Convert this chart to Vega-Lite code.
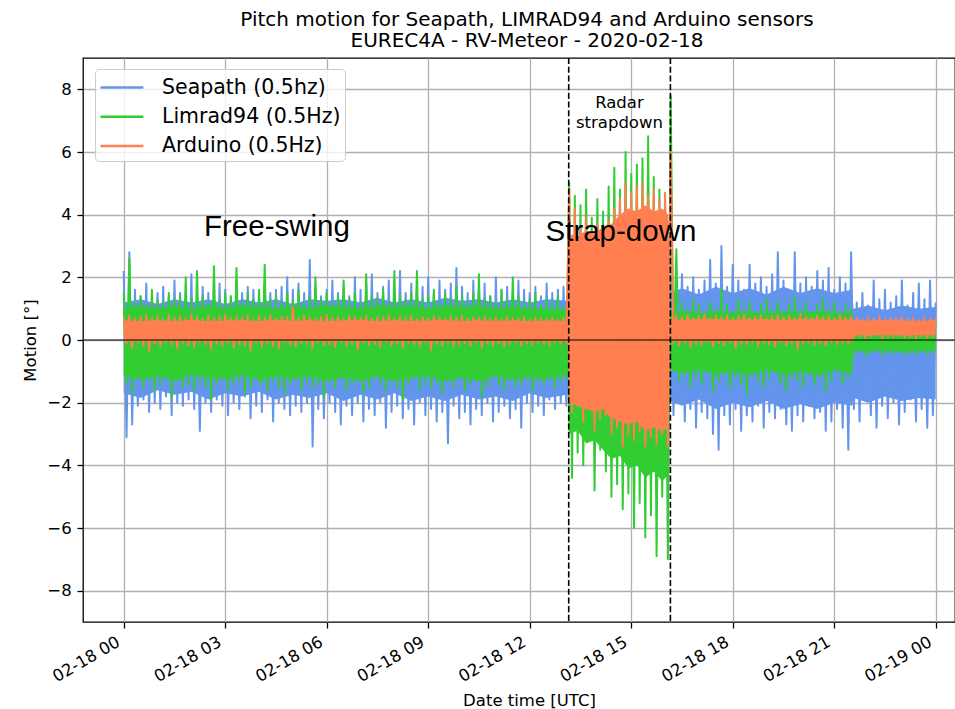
{
"$schema":"https://vega.github.io/schema/vega-lite/v6.json",
"width":872,"height":564,
"autosize":{"type":"none"},
"padding":{"left":83,"top":58,"right":0,"bottom":87},
"background":"white",
"title":{"text":["Pitch motion for Seapath, LIMRAD94 and Arduino sensors","EUREC4A - RV-Meteor - 2020-02-18"],"font":"DejaVu Sans","fontSize":20,"fontWeight":"normal","color":"black","anchor":"middle","dx":8,"dy":21,"lineHeight":21.7,"baseline":"bottom","offset":7},
"config":{
"font":"DejaVu Sans",
"view":{"stroke":"black","strokeWidth":1.3},
"axis":{"domain":false,"gridColor":"#b0b0b0","gridWidth":1.3,"tickColor":"black","tickWidth":1.3,"tickSize":6,"labelFont":"DejaVu Sans","labelFontSize":16.5,"labelColor":"black","titleFont":"DejaVu Sans","titleFontSize":16.5,"titleFontWeight":"normal","titleColor":"black","labelOverlap":false,"labelFlush":false,"labelBound":false}
},
"datasets":{
"phases":[{"t":"2020-02-18T13:09:10Z"},{"t":"2020-02-18T16:09:30Z"}],
"labels":[{"t":"2020-02-18T02:22:24Z","v":3.32,"label":"Free-swing"},{"t":"2020-02-18T12:28:00Z","v":3.16,"label":"Strap-down"}],
"note":[{"t":"2020-02-18T14:39:07Z","v":7.81,"label":"Radar\nstrapdown"}],
"core":[
{"t":"2020-02-18T00:00Z","s0":-1.7,"s1":1.2,"l0":-1.15,"l1":1.0,"a0":-0.04,"a1":0.62},
{"t":"2020-02-18T00:30Z","s0":-1.85,"s1":1.3,"l0":-1.25,"l1":1.1,"a0":-0.03,"a1":0.6},
{"t":"2020-02-18T01:00Z","s0":-1.6,"s1":1.15,"l0":-1.15,"l1":1.0,"a0":-0.05,"a1":0.63},
{"t":"2020-02-18T01:30Z","s0":-1.75,"s1":1.3,"l0":-1.3,"l1":1.1,"a0":-0.02,"a1":0.61},
{"t":"2020-02-18T02:00Z","s0":-1.65,"s1":1.2,"l0":-1.1,"l1":0.95,"a0":-0.04,"a1":0.64},
{"t":"2020-02-18T02:30Z","s0":-1.9,"s1":1.3,"l0":-1.2,"l1":1.1,"a0":-0.03,"a1":0.6},
{"t":"2020-02-18T03:00Z","s0":-1.7,"s1":1.15,"l0":-1.25,"l1":1.0,"a0":-0.05,"a1":0.62},
{"t":"2020-02-18T03:30Z","s0":-1.8,"s1":1.3,"l0":-1.1,"l1":1.1,"a0":-0.02,"a1":0.63},
{"t":"2020-02-18T04:00Z","s0":-1.65,"s1":1.2,"l0":-1.3,"l1":1.05,"a0":-0.04,"a1":0.6},
{"t":"2020-02-18T04:30Z","s0":-1.9,"s1":1.3,"l0":-1.15,"l1":1.0,"a0":-0.03,"a1":0.64},
{"t":"2020-02-18T05:00Z","s0":-1.75,"s1":1.15,"l0":-1.25,"l1":1.1,"a0":-0.05,"a1":0.61},
{"t":"2020-02-18T05:30Z","s0":-1.85,"s1":1.3,"l0":-1.15,"l1":1.0,"a0":-0.02,"a1":0.63},
{"t":"2020-02-18T06:00Z","s0":-1.7,"s1":1.25,"l0":-1.3,"l1":1.1,"a0":-0.04,"a1":0.6},
{"t":"2020-02-18T06:30Z","s0":-1.95,"s1":1.3,"l0":-1.2,"l1":1.05,"a0":-0.03,"a1":0.62},
{"t":"2020-02-18T07:00Z","s0":-1.75,"s1":1.2,"l0":-1.3,"l1":1.0,"a0":-0.05,"a1":0.64},
{"t":"2020-02-18T07:30Z","s0":-1.9,"s1":1.35,"l0":-1.15,"l1":1.1,"a0":-0.02,"a1":0.6},
{"t":"2020-02-18T08:00Z","s0":-1.7,"s1":1.2,"l0":-1.3,"l1":1.05,"a0":-0.04,"a1":0.63},
{"t":"2020-02-18T08:30Z","s0":-1.95,"s1":1.3,"l0":-1.2,"l1":1.1,"a0":-0.03,"a1":0.61},
{"t":"2020-02-18T09:00Z","s0":-1.8,"s1":1.2,"l0":-1.15,"l1":1.0,"a0":-0.05,"a1":0.62},
{"t":"2020-02-18T09:30Z","s0":-1.95,"s1":1.35,"l0":-1.3,"l1":1.1,"a0":-0.02,"a1":0.64},
{"t":"2020-02-18T10:00Z","s0":-1.75,"s1":1.25,"l0":-1.2,"l1":1.05,"a0":-0.04,"a1":0.6},
{"t":"2020-02-18T10:30Z","s0":-1.9,"s1":1.3,"l0":-1.3,"l1":1.1,"a0":-0.03,"a1":0.63},
{"t":"2020-02-18T11:00Z","s0":-1.8,"s1":1.2,"l0":-1.15,"l1":1.0,"a0":-0.05,"a1":0.61},
{"t":"2020-02-18T11:30Z","s0":-1.95,"s1":1.3,"l0":-1.25,"l1":1.05,"a0":-0.02,"a1":0.62},
{"t":"2020-02-18T12:00Z","s0":-1.7,"s1":1.2,"l0":-1.2,"l1":1.0,"a0":-0.04,"a1":0.6},
{"t":"2020-02-18T12:30Z","s0":-1.85,"s1":1.3,"l0":-1.25,"l1":1.0,"a0":-0.03,"a1":0.62},
{"t":"2020-02-18T13:07Z","s0":-1.75,"s1":1.25,"l0":-1.1,"l1":0.95,"a0":-0.03,"a1":0.6},
{"t":"2020-02-18T13:09Z","s0":-1.2,"s1":1.1,"l0":-3.0,"l1":3.2,"a0":-2.0,"a1":3.4},
{"t":"2020-02-18T13:25Z","s0":-1.2,"s1":1.1,"l0":-2.9,"l1":3.2,"a0":-2.1,"a1":3.3},
{"t":"2020-02-18T13:40Z","s0":-1.2,"s1":1.1,"l0":-3.3,"l1":3.2,"a0":-2.2,"a1":3.5},
{"t":"2020-02-18T13:55Z","s0":-1.2,"s1":1.1,"l0":-3.2,"l1":3.2,"a0":-2.3,"a1":3.4},
{"t":"2020-02-18T14:10Z","s0":-1.2,"s1":1.1,"l0":-3.5,"l1":3.4,"a0":-2.2,"a1":3.6},
{"t":"2020-02-18T14:25Z","s0":-1.2,"s1":1.1,"l0":-3.8,"l1":3.6,"a0":-2.5,"a1":3.7},
{"t":"2020-02-18T14:40Z","s0":-1.2,"s1":1.1,"l0":-3.7,"l1":3.8,"a0":-2.6,"a1":4.0},
{"t":"2020-02-18T14:55Z","s0":-1.2,"s1":1.1,"l0":-4.1,"l1":3.9,"a0":-2.7,"a1":4.2},
{"t":"2020-02-18T15:10Z","s0":-1.2,"s1":1.1,"l0":-4.0,"l1":3.9,"a0":-2.6,"a1":4.1},
{"t":"2020-02-18T15:25Z","s0":-1.2,"s1":1.1,"l0":-4.4,"l1":4.0,"a0":-2.9,"a1":4.3},
{"t":"2020-02-18T15:40Z","s0":-1.2,"s1":1.1,"l0":-4.2,"l1":3.9,"a0":-2.8,"a1":4.1},
{"t":"2020-02-18T15:55Z","s0":-1.2,"s1":1.1,"l0":-4.5,"l1":3.9,"a0":-2.9,"a1":4.2},
{"t":"2020-02-18T16:06Z","s0":-1.2,"s1":1.1,"l0":-4.3,"l1":3.8,"a0":-2.8,"a1":4.0},
{"t":"2020-02-18T16:09Z","s0":-1.95,"s1":1.5,"l0":-0.95,"l1":0.85,"a0":-0.03,"a1":0.66},
{"t":"2020-02-18T16:30Z","s0":-2.1,"s1":1.65,"l0":-1.05,"l1":0.9,"a0":-0.04,"a1":0.65},
{"t":"2020-02-18T17:00Z","s0":-1.9,"s1":1.45,"l0":-0.95,"l1":0.85,"a0":-0.03,"a1":0.67},
{"t":"2020-02-18T17:30Z","s0":-2.2,"s1":1.7,"l0":-1.1,"l1":0.9,"a0":-0.05,"a1":0.66},
{"t":"2020-02-18T18:00Z","s0":-2.0,"s1":1.5,"l0":-1.0,"l1":0.85,"a0":-0.03,"a1":0.65},
{"t":"2020-02-18T18:30Z","s0":-2.15,"s1":1.65,"l0":-1.1,"l1":0.9,"a0":-0.04,"a1":0.67},
{"t":"2020-02-18T19:00Z","s0":-1.95,"s1":1.45,"l0":-0.95,"l1":0.85,"a0":-0.03,"a1":0.66},
{"t":"2020-02-18T19:30Z","s0":-2.2,"s1":1.7,"l0":-1.1,"l1":0.9,"a0":-0.05,"a1":0.65},
{"t":"2020-02-18T20:00Z","s0":-2.05,"s1":1.5,"l0":-1.0,"l1":0.85,"a0":-0.03,"a1":0.67},
{"t":"2020-02-18T20:30Z","s0":-2.2,"s1":1.65,"l0":-1.1,"l1":0.9,"a0":-0.04,"a1":0.66},
{"t":"2020-02-18T21:00Z","s0":-2.0,"s1":1.5,"l0":-0.95,"l1":0.85,"a0":-0.03,"a1":0.65},
{"t":"2020-02-18T21:32Z","s0":-2.1,"s1":1.6,"l0":-1.05,"l1":0.85,"a0":-0.04,"a1":0.66},
{"t":"2020-02-18T21:34Z","s0":-1.85,"s1":1.0,"l0":-0.33,"l1":0.48,"a0":0.15,"a1":0.62},
{"t":"2020-02-18T22:00Z","s0":-2.0,"s1":1.1,"l0":-0.36,"l1":0.48,"a0":0.14,"a1":0.62},
{"t":"2020-02-18T22:30Z","s0":-1.8,"s1":0.95,"l0":-0.33,"l1":0.48,"a0":0.16,"a1":0.63},
{"t":"2020-02-18T23:00Z","s0":-1.95,"s1":1.1,"l0":-0.37,"l1":0.48,"a0":0.14,"a1":0.62},
{"t":"2020-02-18T23:30Z","s0":-1.85,"s1":1.0,"l0":-0.34,"l1":0.48,"a0":0.15,"a1":0.61},
{"t":"2020-02-19T00:00Z","s0":-1.9,"s1":1.05,"l0":-0.35,"l1":0.48,"a0":0.15,"a1":0.62}
],
"motion":[
{"t":"2020-02-18T00:00Z","s":2.2,"l":1.5,"a":0.72},
{"t":"2020-02-18T00:05Z","s":-3.1,"l":-1.4,"a":-0.12},
{"t":"2020-02-18T00:10Z","s":2.8,"l":2.6,"a":0.78},
{"t":"2020-02-18T00:15Z","s":-2.7,"l":-1.7,"a":-0.25},
{"t":"2020-02-18T00:20Z","s":1.6,"l":1.2,"a":0.68},
{"t":"2020-02-18T00:25Z","s":-2.1,"l":-1.2,"a":-0.08},
{"t":"2020-02-18T00:30Z","s":1.4,"l":1.4,"a":0.75},
{"t":"2020-02-18T00:35Z","s":-1.9,"l":-1.5,"a":-0.18},
{"t":"2020-02-18T00:40Z","s":1.8,"l":1.1,"a":0.8},
{"t":"2020-02-18T00:45Z","s":-2.3,"l":-1.3,"a":-0.35},
{"t":"2020-02-18T00:50Z","s":1.3,"l":1.6,"a":0.7},
{"t":"2020-02-18T00:55Z","s":-2.0,"l":-1.6,"a":-0.1},
{"t":"2020-02-18T01:00Z","s":1.5,"l":1.3,"a":0.74},
{"t":"2020-02-18T01:05Z","s":-2.2,"l":-1.4,"a":-0.2},
{"t":"2020-02-18T01:10Z","s":1.7,"l":1.2,"a":0.66},
{"t":"2020-02-18T01:15Z","s":-1.8,"l":-1.2,"a":-0.06},
{"t":"2020-02-18T01:20Z","s":1.4,"l":1.5,"a":0.79},
{"t":"2020-02-18T01:25Z","s":-2.4,"l":-1.8,"a":-0.15},
{"t":"2020-02-18T01:30Z","s":1.9,"l":1.3,"a":0.71},
{"t":"2020-02-18T01:35Z","s":-2.0,"l":-1.3,"a":-0.28},
{"t":"2020-02-18T01:40Z","s":1.5,"l":1.4,"a":0.76},
{"t":"2020-02-18T01:45Z","s":-2.1,"l":-1.5,"a":-0.09},
{"t":"2020-02-18T01:50Z","s":1.6,"l":2.0,"a":0.69},
{"t":"2020-02-18T01:55Z","s":-1.9,"l":-1.4,"a":-0.17},
{"t":"2020-02-18T02:00Z","s":2.1,"l":1.3,"a":0.82},
{"t":"2020-02-18T02:05Z","s":-2.2,"l":-1.6,"a":-0.22},
{"t":"2020-02-18T02:10Z","s":1.4,"l":2.2,"a":0.73},
{"t":"2020-02-18T02:15Z","s":-2.9,"l":-1.3,"a":-0.05},
{"t":"2020-02-18T02:20Z","s":1.7,"l":1.4,"a":0.67},
{"t":"2020-02-18T02:25Z","s":-2.0,"l":-1.5,"a":-0.14},
{"t":"2020-02-18T02:30Z","s":1.5,"l":1.2,"a":0.77},
{"t":"2020-02-18T02:35Z","s":-2.3,"l":-1.9,"a":-0.3},
{"t":"2020-02-18T02:40Z","s":1.3,"l":2.35,"a":0.7},
{"t":"2020-02-18T02:45Z","s":-1.9,"l":-1.4,"a":-0.11},
{"t":"2020-02-18T02:50Z","s":1.8,"l":1.3,"a":0.75},
{"t":"2020-02-18T02:55Z","s":-2.1,"l":-1.2,"a":-0.19},
{"t":"2020-02-18T03:00Z","s":1.6,"l":1.5,"a":0.8},
{"t":"2020-02-18T03:05Z","s":-2.4,"l":-1.6,"a":-0.07},
{"t":"2020-02-18T03:10Z","s":1.4,"l":1.4,"a":0.68},
{"t":"2020-02-18T03:15Z","s":-2.0,"l":-1.4,"a":-0.24},
{"t":"2020-02-18T03:20Z","s":1.9,"l":2.3,"a":0.74},
{"t":"2020-02-18T03:25Z","s":-2.2,"l":-1.3,"a":-0.13},
{"t":"2020-02-18T03:30Z","s":1.5,"l":1.2,"a":0.72},
{"t":"2020-02-18T03:35Z","s":-1.8,"l":-1.7,"a":-0.16},
{"t":"2020-02-18T03:40Z","s":1.7,"l":1.5,"a":0.78},
{"t":"2020-02-18T03:45Z","s":-2.5,"l":-1.5,"a":-0.33},
{"t":"2020-02-18T03:50Z","s":1.6,"l":1.3,"a":0.65},
{"t":"2020-02-18T03:55Z","s":-2.1,"l":-1.2,"a":-0.08},
{"t":"2020-02-18T04:00Z","s":1.4,"l":1.6,"a":0.76},
{"t":"2020-02-18T04:05Z","s":-2.3,"l":-1.4,"a":-0.2},
{"t":"2020-02-18T04:10Z","s":1.8,"l":2.4,"a":0.71},
{"t":"2020-02-18T04:15Z","s":-1.9,"l":-1.6,"a":-0.1},
{"t":"2020-02-18T04:20Z","s":1.5,"l":1.3,"a":0.79},
{"t":"2020-02-18T04:25Z","s":-2.6,"l":-1.3,"a":-0.18},
{"t":"2020-02-18T04:30Z","s":1.6,"l":1.4,"a":0.69},
{"t":"2020-02-18T04:35Z","s":-2.0,"l":-1.5,"a":-0.27},
{"t":"2020-02-18T04:40Z","s":1.7,"l":1.2,"a":0.74},
{"t":"2020-02-18T04:45Z","s":-2.2,"l":-1.7,"a":-0.06},
{"t":"2020-02-18T04:50Z","s":2.0,"l":1.5,"a":0.73},
{"t":"2020-02-18T04:55Z","s":-2.4,"l":-1.4,"a":-0.15},
{"t":"2020-02-18T05:00Z","s":1.6,"l":1.3,"a":1.05},
{"t":"2020-02-18T05:05Z","s":-2.1,"l":-1.2,"a":-0.21},
{"t":"2020-02-18T05:10Z","s":1.8,"l":1.6,"a":0.7},
{"t":"2020-02-18T05:15Z","s":-2.3,"l":-1.6,"a":-0.09},
{"t":"2020-02-18T05:20Z","s":1.5,"l":1.2,"a":0.77},
{"t":"2020-02-18T05:25Z","s":-2.0,"l":-1.3,"a":-0.12},
{"t":"2020-02-18T05:30Z","s":2.55,"l":1.4,"a":0.72},
{"t":"2020-02-18T05:35Z","s":-3.4,"l":-1.5,"a":-0.26},
{"t":"2020-02-18T05:40Z","s":1.7,"l":2.0,"a":0.68},
{"t":"2020-02-18T05:45Z","s":-2.2,"l":-1.4,"a":-0.07},
{"t":"2020-02-18T05:50Z","s":1.4,"l":1.3,"a":0.75},
{"t":"2020-02-18T05:55Z","s":-2.5,"l":-1.8,"a":-0.17},
{"t":"2020-02-18T06:00Z","s":1.6,"l":1.5,"a":0.8},
{"t":"2020-02-18T06:05Z","s":-2.0,"l":-1.3,"a":-0.14},
{"t":"2020-02-18T06:10Z","s":1.9,"l":1.2,"a":0.71},
{"t":"2020-02-18T06:15Z","s":-2.3,"l":-1.5,"a":-0.23},
{"t":"2020-02-18T06:20Z","s":1.5,"l":1.4,"a":0.74},
{"t":"2020-02-18T06:25Z","s":-2.7,"l":-1.2,"a":-0.05},
{"t":"2020-02-18T06:30Z","s":1.7,"l":1.9,"a":0.67},
{"t":"2020-02-18T06:35Z","s":-2.1,"l":-1.6,"a":-0.19},
{"t":"2020-02-18T06:40Z","s":1.4,"l":1.3,"a":0.78},
{"t":"2020-02-18T06:45Z","s":-2.4,"l":-1.4,"a":-0.11},
{"t":"2020-02-18T06:50Z","s":2.0,"l":1.5,"a":0.73},
{"t":"2020-02-18T06:55Z","s":-2.0,"l":-1.3,"a":-0.29},
{"t":"2020-02-18T07:00Z","s":1.6,"l":1.2,"a":0.7},
{"t":"2020-02-18T07:05Z","s":-2.6,"l":-1.7,"a":-0.08},
{"t":"2020-02-18T07:10Z","s":1.8,"l":2.1,"a":0.76},
{"t":"2020-02-18T07:15Z","s":-2.2,"l":-1.5,"a":-0.16},
{"t":"2020-02-18T07:20Z","s":2.1,"l":1.4,"a":0.69},
{"t":"2020-02-18T07:25Z","s":-2.4,"l":-1.2,"a":-0.13},
{"t":"2020-02-18T07:30Z","s":1.5,"l":1.3,"a":0.74},
{"t":"2020-02-18T07:35Z","s":-2.0,"l":-1.4,"a":-0.22},
{"t":"2020-02-18T07:40Z","s":1.7,"l":1.6,"a":0.72},
{"t":"2020-02-18T07:45Z","s":-2.8,"l":-1.6,"a":-0.06},
{"t":"2020-02-18T07:50Z","s":1.9,"l":1.2,"a":0.79},
{"t":"2020-02-18T07:55Z","s":-2.3,"l":-1.3,"a":-0.18},
{"t":"2020-02-18T08:00Z","s":1.6,"l":2.2,"a":0.68},
{"t":"2020-02-18T08:05Z","s":-2.1,"l":-1.5,"a":-0.1},
{"t":"2020-02-18T08:10Z","s":2.2,"l":1.4,"a":0.75},
{"t":"2020-02-18T08:15Z","s":-2.5,"l":-1.9,"a":-0.25},
{"t":"2020-02-18T08:20Z","s":1.5,"l":1.3,"a":0.71},
{"t":"2020-02-18T08:25Z","s":-2.2,"l":-1.4,"a":-0.09},
{"t":"2020-02-18T08:30Z","s":1.8,"l":1.5,"a":0.77},
{"t":"2020-02-18T08:35Z","s":-2.7,"l":-1.2,"a":-0.15},
{"t":"2020-02-18T08:40Z","s":1.6,"l":2.2,"a":0.66},
{"t":"2020-02-18T08:45Z","s":-2.0,"l":-1.6,"a":-0.2},
{"t":"2020-02-18T08:50Z","s":1.7,"l":1.3,"a":0.73},
{"t":"2020-02-18T08:55Z","s":-2.4,"l":-1.3,"a":-0.07},
{"t":"2020-02-18T09:00Z","s":2.0,"l":1.4,"a":0.7},
{"t":"2020-02-18T09:05Z","s":-2.2,"l":-1.5,"a":-0.32},
{"t":"2020-02-18T09:10Z","s":1.5,"l":1.6,"a":0.76},
{"t":"2020-02-18T09:15Z","s":-2.6,"l":-1.4,"a":-0.12},
{"t":"2020-02-18T09:20Z","s":1.9,"l":1.2,"a":0.72},
{"t":"2020-02-18T09:25Z","s":-2.3,"l":-1.7,"a":-0.17},
{"t":"2020-02-18T09:30Z","s":1.6,"l":1.5,"a":0.68},
{"t":"2020-02-18T09:35Z","s":-3.3,"l":-1.3,"a":-0.08},
{"t":"2020-02-18T09:40Z","s":1.8,"l":1.3,"a":0.74},
{"t":"2020-02-18T09:45Z","s":-2.1,"l":-1.5,"a":-0.21},
{"t":"2020-02-18T09:50Z","s":2.3,"l":1.7,"a":0.71},
{"t":"2020-02-18T09:55Z","s":-2.5,"l":-1.2,"a":-0.14},
{"t":"2020-02-18T10:00Z","s":1.7,"l":1.4,"a":0.78},
{"t":"2020-02-18T10:05Z","s":-2.3,"l":-1.6,"a":-0.1},
{"t":"2020-02-18T10:10Z","s":1.5,"l":1.2,"a":0.67},
{"t":"2020-02-18T10:15Z","s":-2.7,"l":-1.4,"a":-0.19},
{"t":"2020-02-18T10:20Z","s":1.9,"l":1.5,"a":0.73},
{"t":"2020-02-18T10:25Z","s":-2.2,"l":-1.3,"a":-0.06},
{"t":"2020-02-18T10:30Z","s":1.6,"l":2.1,"a":0.7},
{"t":"2020-02-18T10:35Z","s":-2.4,"l":-1.8,"a":-0.24},
{"t":"2020-02-18T10:40Z","s":1.8,"l":1.3,"a":0.75},
{"t":"2020-02-18T10:45Z","s":-2.0,"l":-1.5,"a":-0.11},
{"t":"2020-02-18T10:50Z","s":1.4,"l":1.4,"a":0.69},
{"t":"2020-02-18T10:55Z","s":-2.6,"l":-1.2,"a":-0.16},
{"t":"2020-02-18T11:00Z","s":2.0,"l":1.2,"a":0.72},
{"t":"2020-02-18T11:05Z","s":-2.3,"l":-1.4,"a":-0.09},
{"t":"2020-02-18T11:10Z","s":1.6,"l":1.6,"a":0.66},
{"t":"2020-02-18T11:15Z","s":-2.1,"l":-1.6,"a":-0.2},
{"t":"2020-02-18T11:20Z","s":1.7,"l":1.3,"a":0.74},
{"t":"2020-02-18T11:25Z","s":-2.5,"l":-1.3,"a":-0.13},
{"t":"2020-02-18T11:30Z","s":1.5,"l":2.0,"a":0.7},
{"t":"2020-02-18T11:35Z","s":-2.2,"l":-1.5,"a":-0.07},
{"t":"2020-02-18T11:40Z","s":1.9,"l":1.4,"a":0.68},
{"t":"2020-02-18T11:45Z","s":-2.8,"l":-1.4,"a":-0.18},
{"t":"2020-02-18T11:50Z","s":1.6,"l":1.2,"a":0.73},
{"t":"2020-02-18T11:55Z","s":-2.0,"l":-1.2,"a":-0.1},
{"t":"2020-02-18T12:00Z","s":1.5,"l":1.3,"a":0.65},
{"t":"2020-02-18T12:05Z","s":-2.3,"l":-1.6,"a":-0.15},
{"t":"2020-02-18T12:10Z","s":1.7,"l":1.5,"a":0.71},
{"t":"2020-02-18T12:15Z","s":-2.1,"l":-1.3,"a":-0.08},
{"t":"2020-02-18T12:20Z","s":1.4,"l":1.1,"a":0.69},
{"t":"2020-02-18T12:25Z","s":-2.4,"l":-1.4,"a":-0.12},
{"t":"2020-02-18T12:30Z","s":1.8,"l":1.3,"a":0.67},
{"t":"2020-02-18T12:35Z","s":-1.9,"l":-1.2,"a":-0.17},
{"t":"2020-02-18T12:40Z","s":1.5,"l":1.2,"a":0.72},
{"t":"2020-02-18T12:45Z","s":-2.2,"l":-1.5,"a":-0.06},
{"t":"2020-02-18T12:50Z","s":1.6,"l":1.4,"a":0.64},
{"t":"2020-02-18T12:55Z","s":-2.0,"l":-1.3,"a":-0.11},
{"t":"2020-02-18T13:00Z","s":1.7,"l":1.1,"a":0.7},
{"t":"2020-02-18T13:05Z","s":-2.1,"l":-1.2,"a":-0.09},
{"t":"2020-02-18T13:10Z","s":1.5,"l":5.0,"a":4.8},
{"t":"2020-02-18T13:15Z","s":-1.6,"l":-4.4,"a":-2.3},
{"t":"2020-02-18T13:20Z","s":1.3,"l":4.6,"a":4.2},
{"t":"2020-02-18T13:25Z","s":-1.4,"l":-3.6,"a":-2.1},
{"t":"2020-02-18T13:30Z","s":1.6,"l":4.3,"a":3.6},
{"t":"2020-02-18T13:35Z","s":-1.5,"l":-4.0,"a":-2.6},
{"t":"2020-02-18T13:40Z","s":1.4,"l":4.8,"a":3.9},
{"t":"2020-02-18T13:45Z","s":-1.3,"l":-3.2,"a":-2.2},
{"t":"2020-02-18T13:50Z","s":1.5,"l":3.9,"a":3.4},
{"t":"2020-02-18T13:55Z","s":-1.6,"l":-4.8,"a":-2.9},
{"t":"2020-02-18T14:00Z","s":1.2,"l":4.5,"a":3.7},
{"t":"2020-02-18T14:05Z","s":-1.4,"l":-3.5,"a":-2.5},
{"t":"2020-02-18T14:10Z","s":1.6,"l":4.1,"a":3.5},
{"t":"2020-02-18T14:15Z","s":-1.5,"l":-4.2,"a":-2.4},
{"t":"2020-02-18T14:20Z","s":1.4,"l":4.9,"a":3.8},
{"t":"2020-02-18T14:25Z","s":-1.3,"l":-5.0,"a":-3.0},
{"t":"2020-02-18T14:30Z","s":1.5,"l":5.5,"a":4.2},
{"t":"2020-02-18T14:35Z","s":-1.6,"l":-4.6,"a":-2.8},
{"t":"2020-02-18T14:40Z","s":1.3,"l":4.8,"a":4.5},
{"t":"2020-02-18T14:45Z","s":-1.4,"l":-5.4,"a":-3.4},
{"t":"2020-02-18T14:50Z","s":1.6,"l":6.0,"a":5.0},
{"t":"2020-02-18T14:55Z","s":-1.5,"l":-4.9,"a":-3.0},
{"t":"2020-02-18T15:00Z","s":1.4,"l":5.3,"a":4.7},
{"t":"2020-02-18T15:05Z","s":-1.3,"l":-6.0,"a":-3.2},
{"t":"2020-02-18T15:10Z","s":1.5,"l":5.6,"a":4.9},
{"t":"2020-02-18T15:15Z","s":-1.6,"l":-5.2,"a":-2.9},
{"t":"2020-02-18T15:20Z","s":1.2,"l":5.8,"a":5.0},
{"t":"2020-02-18T15:25Z","s":-1.4,"l":-6.3,"a":-3.4},
{"t":"2020-02-18T15:30Z","s":1.6,"l":6.5,"a":4.6},
{"t":"2020-02-18T15:35Z","s":-1.5,"l":-5.6,"a":-3.1},
{"t":"2020-02-18T15:40Z","s":1.4,"l":5.2,"a":4.8},
{"t":"2020-02-18T15:45Z","s":-1.3,"l":-6.9,"a":-3.3},
{"t":"2020-02-18T15:50Z","s":1.5,"l":4.8,"a":4.5},
{"t":"2020-02-18T15:55Z","s":-1.6,"l":-5.0,"a":-3.0},
{"t":"2020-02-18T16:00Z","s":1.3,"l":4.4,"a":4.7},
{"t":"2020-02-18T16:05Z","s":-1.4,"l":-7.0,"a":-3.4},
{"t":"2020-02-18T16:10Z","s":2.0,"l":7.8,"a":6.0},
{"t":"2020-02-18T16:15Z","s":-2.4,"l":-1.0,"a":-0.1},
{"t":"2020-02-18T16:20Z","s":1.8,"l":2.9,"a":0.78},
{"t":"2020-02-18T16:25Z","s":-2.0,"l":-1.3,"a":-0.18},
{"t":"2020-02-18T16:30Z","s":2.1,"l":1.2,"a":0.72},
{"t":"2020-02-18T16:35Z","s":-2.6,"l":-1.1,"a":-0.07},
{"t":"2020-02-18T16:40Z","s":1.7,"l":1.0,"a":0.8},
{"t":"2020-02-18T16:45Z","s":-2.2,"l":-1.5,"a":-0.22},
{"t":"2020-02-18T16:50Z","s":2.0,"l":1.3,"a":0.69},
{"t":"2020-02-18T16:55Z","s":-2.8,"l":-1.2,"a":-0.12},
{"t":"2020-02-18T17:00Z","s":1.6,"l":1.1,"a":0.75},
{"t":"2020-02-18T17:05Z","s":-2.3,"l":-1.4,"a":-0.15},
{"t":"2020-02-18T17:10Z","s":1.9,"l":0.9,"a":0.82},
{"t":"2020-02-18T17:15Z","s":-2.5,"l":-1.0,"a":-0.05},
{"t":"2020-02-18T17:20Z","s":2.55,"l":1.2,"a":0.7},
{"t":"2020-02-18T17:25Z","s":-3.0,"l":-1.6,"a":-0.2},
{"t":"2020-02-18T17:30Z","s":1.8,"l":1.0,"a":0.77},
{"t":"2020-02-18T17:35Z","s":-3.5,"l":-1.3,"a":-0.1},
{"t":"2020-02-18T17:40Z","s":3.0,"l":1.6,"a":0.73},
{"t":"2020-02-18T17:45Z","s":-2.4,"l":-1.1,"a":-0.16},
{"t":"2020-02-18T17:50Z","s":1.7,"l":1.1,"a":0.79},
{"t":"2020-02-18T17:55Z","s":-2.7,"l":-1.5,"a":-0.08},
{"t":"2020-02-18T18:00Z","s":2.4,"l":0.9,"a":0.68},
{"t":"2020-02-18T18:05Z","s":-2.2,"l":-1.2,"a":-0.25},
{"t":"2020-02-18T18:10Z","s":1.9,"l":1.3,"a":0.76},
{"t":"2020-02-18T18:15Z","s":-2.9,"l":-1.4,"a":-0.11},
{"t":"2020-02-18T18:20Z","s":1.6,"l":1.0,"a":0.81},
{"t":"2020-02-18T18:25Z","s":-2.4,"l":-1.7,"a":-0.14},
{"t":"2020-02-18T18:30Z","s":2.4,"l":1.2,"a":0.71},
{"t":"2020-02-18T18:35Z","s":-2.6,"l":-1.1,"a":-0.06},
{"t":"2020-02-18T18:40Z","s":1.8,"l":0.9,"a":0.74},
{"t":"2020-02-18T18:45Z","s":-2.1,"l":-1.3,"a":-0.19},
{"t":"2020-02-18T18:50Z","s":2.0,"l":1.1,"a":0.78},
{"t":"2020-02-18T18:55Z","s":-2.8,"l":-1.5,"a":-0.09},
{"t":"2020-02-18T19:00Z","s":1.7,"l":1.3,"a":0.69},
{"t":"2020-02-18T19:05Z","s":-2.3,"l":-1.2,"a":-0.13},
{"t":"2020-02-18T19:10Z","s":2.1,"l":1.0,"a":0.75},
{"t":"2020-02-18T19:15Z","s":-2.5,"l":-1.0,"a":-0.21},
{"t":"2020-02-18T19:20Z","s":2.8,"l":1.2,"a":0.8},
{"t":"2020-02-18T19:25Z","s":-2.2,"l":-1.4,"a":-0.07},
{"t":"2020-02-18T19:30Z","s":1.9,"l":0.9,"a":0.72},
{"t":"2020-02-18T19:35Z","s":-2.7,"l":-1.6,"a":-0.17},
{"t":"2020-02-18T19:40Z","s":1.6,"l":1.1,"a":0.77},
{"t":"2020-02-18T19:45Z","s":-2.9,"l":-1.2,"a":-0.1},
{"t":"2020-02-18T19:50Z","s":2.8,"l":1.4,"a":0.7},
{"t":"2020-02-18T19:55Z","s":-2.4,"l":-1.3,"a":-0.3},
{"t":"2020-02-18T20:00Z","s":1.8,"l":1.0,"a":0.83},
{"t":"2020-02-18T20:05Z","s":-2.6,"l":-1.5,"a":-0.12},
{"t":"2020-02-18T20:10Z","s":2.0,"l":1.2,"a":0.74},
{"t":"2020-02-18T20:15Z","s":-2.1,"l":-1.1,"a":-0.08},
{"t":"2020-02-18T20:20Z","s":1.7,"l":0.9,"a":0.71},
{"t":"2020-02-18T20:25Z","s":-2.5,"l":-1.4,"a":-0.15},
{"t":"2020-02-18T20:30Z","s":2.2,"l":1.1,"a":0.78},
{"t":"2020-02-18T20:35Z","s":-2.3,"l":-1.2,"a":-0.11},
{"t":"2020-02-18T20:40Z","s":1.9,"l":1.3,"a":0.73},
{"t":"2020-02-18T20:45Z","s":-2.9,"l":-1.6,"a":-0.18},
{"t":"2020-02-18T20:50Z","s":2.3,"l":1.0,"a":0.76},
{"t":"2020-02-18T20:55Z","s":-2.6,"l":-1.3,"a":-0.06},
{"t":"2020-02-18T21:00Z","s":1.6,"l":1.2,"a":0.69},
{"t":"2020-02-18T21:05Z","s":-2.2,"l":-1.0,"a":-0.14},
{"t":"2020-02-18T21:10Z","s":2.0,"l":0.9,"a":0.8},
{"t":"2020-02-18T21:15Z","s":-2.8,"l":-1.4,"a":-0.09},
{"t":"2020-02-18T21:20Z","s":1.8,"l":1.1,"a":0.72},
{"t":"2020-02-18T21:25Z","s":-3.5,"l":-1.2,"a":-0.12},
{"t":"2020-02-18T21:30Z","s":2.8,"l":1.0,"a":0.75},
{"t":"2020-02-18T21:35Z","s":-2.2,"l":-0.45,"a":0.08},
{"t":"2020-02-18T21:40Z","s":1.2,"l":0.55,"a":0.7},
{"t":"2020-02-18T21:45Z","s":-2.6,"l":-0.38,"a":0.12},
{"t":"2020-02-18T21:50Z","s":1.5,"l":0.5,"a":0.66},
{"t":"2020-02-18T21:55Z","s":-1.9,"l":-0.5,"a":0.05},
{"t":"2020-02-18T22:00Z","s":1.1,"l":0.6,"a":0.72},
{"t":"2020-02-18T22:05Z","s":-2.4,"l":-0.42,"a":0.1},
{"t":"2020-02-18T22:10Z","s":1.9,"l":0.52,"a":0.68},
{"t":"2020-02-18T22:15Z","s":-2.8,"l":-0.35,"a":0.14},
{"t":"2020-02-18T22:20Z","s":1.3,"l":0.58,"a":0.74},
{"t":"2020-02-18T22:25Z","s":-2.1,"l":-0.48,"a":0.06},
{"t":"2020-02-18T22:30Z","s":1.6,"l":0.5,"a":0.65},
{"t":"2020-02-18T22:35Z","s":-2.5,"l":-0.4,"a":0.11},
{"t":"2020-02-18T22:40Z","s":1.2,"l":0.55,"a":0.71},
{"t":"2020-02-18T22:45Z","s":-2.0,"l":-0.44,"a":0.09},
{"t":"2020-02-18T22:50Z","s":1.4,"l":0.6,"a":0.69},
{"t":"2020-02-18T22:55Z","s":-2.7,"l":-0.36,"a":0.13},
{"t":"2020-02-18T23:00Z","s":1.9,"l":0.52,"a":0.73},
{"t":"2020-02-18T23:05Z","s":-2.3,"l":-0.5,"a":0.07},
{"t":"2020-02-18T23:10Z","s":1.1,"l":0.57,"a":0.67},
{"t":"2020-02-18T23:15Z","s":-1.9,"l":-0.41,"a":0.1},
{"t":"2020-02-18T23:20Z","s":1.5,"l":0.5,"a":0.7},
{"t":"2020-02-18T23:25Z","s":-2.6,"l":-0.46,"a":0.05},
{"t":"2020-02-18T23:30Z","s":1.8,"l":0.55,"a":0.64},
{"t":"2020-02-18T23:35Z","s":-2.2,"l":-0.38,"a":0.12},
{"t":"2020-02-18T23:40Z","s":1.3,"l":0.58,"a":0.72},
{"t":"2020-02-18T23:45Z","s":-2.8,"l":-0.43,"a":0.08},
{"t":"2020-02-18T23:50Z","s":1.9,"l":0.52,"a":0.68},
{"t":"2020-02-18T23:55Z","s":-2.4,"l":-0.4,"a":0.1},
{"t":"2020-02-19T00:00Z","s":1.2,"l":0.56,"a":0.7}
]},
"layer":[
{"data":{"name":"core"},"mark":{"type":"area","color":"#6495ED"},
 "encoding":{"x":{"field":"t","type":"temporal","title":"Date time [UTC]",
   "scale":{"type":"utc","domain":[{"year":2020,"month":2,"date":17,"hours":22,"minutes":47,"seconds":48,"utc":true},{"year":2020,"month":2,"date":19,"hours":0,"minutes":34,"seconds":12,"utc":true}]},
   "axis":{"format":"%m-%d %H","values":[
     {"year":2020,"month":2,"date":18,"hours":0,"utc":true},{"year":2020,"month":2,"date":18,"hours":3,"utc":true},{"year":2020,"month":2,"date":18,"hours":6,"utc":true},
     {"year":2020,"month":2,"date":18,"hours":9,"utc":true},{"year":2020,"month":2,"date":18,"hours":12,"utc":true},{"year":2020,"month":2,"date":18,"hours":15,"utc":true},
     {"year":2020,"month":2,"date":18,"hours":18,"utc":true},{"year":2020,"month":2,"date":18,"hours":21,"utc":true},{"year":2020,"month":2,"date":19,"hours":0,"utc":true}],
     "grid":true,"labelAngle":-30,"labelAlign":"right","labelBaseline":"top","labelPadding":5.6,"labelOffset":-9.6,"titleX":446,"titleY":83,"titleBaseline":"alphabetic","titleAlign":"center"}},
  "y":{"field":"s0","type":"quantitative","title":"Motion [°]","scale":{"domain":[-9,9],"nice":false,"zero":false},
     "axis":{"values":[-8,-6,-4,-2,0,2,4,6,8],"grid":true,"labelPadding":5.8,"titleX":-48,"titleY":282,"titleAngle":270,"titleBaseline":"alphabetic","titleAlign":"center"}},
  "y2":{"field":"s1"}}},
{"data":{"name":"motion"},"mark":{"type":"line","strokeWidth":2,"strokeJoin":"round"},
 "encoding":{"x":{"field":"t","type":"temporal","title":"Date time [UTC]"},
  "y":{"field":"s","type":"quantitative","title":"Motion [°]"},
  "color":{"datum":"Seapath (0.5hz)","scale":{"domain":["Seapath (0.5hz)","Limrad94 (0.5Hz)","Arduino (0.5Hz)"],"range":["#6495ED","#32CD32","#FF7F50"]},
     "legend":{"orient":"none","legendX":12,"legendY":11,"title":null,"fillColor":"rgba(255,255,255,0.8)","strokeColor":"#cccccc","cornerRadius":4,"padding":4,"symbolType":"M-1,0H2.3","symbolSize":676,"symbolStrokeWidth":2.5,"labelFont":"DejaVu Sans","labelFontSize":20.5,"labelColor":"black","labelOffset":34,"rowPadding":4.3,"labelLimit":0}}}},
{"data":{"name":"core"},"mark":{"type":"area","color":"#32CD32"},
 "encoding":{"x":{"field":"t","type":"temporal","title":"Date time [UTC]"},"y":{"field":"l0","type":"quantitative","title":"Motion [°]"},"y2":{"field":"l1"}}},
{"data":{"name":"motion"},"mark":{"type":"line","strokeWidth":2,"strokeJoin":"round"},
 "encoding":{"x":{"field":"t","type":"temporal","title":"Date time [UTC]"},"y":{"field":"l","type":"quantitative","title":"Motion [°]"},"color":{"datum":"Limrad94 (0.5Hz)"}}},
{"data":{"name":"core"},"mark":{"type":"area","color":"#FF7F50"},
 "encoding":{"x":{"field":"t","type":"temporal","title":"Date time [UTC]"},"y":{"field":"a0","type":"quantitative","title":"Motion [°]"},"y2":{"field":"a1"}}},
{"data":{"name":"motion"},"mark":{"type":"line","strokeWidth":2,"strokeJoin":"round"},
 "encoding":{"x":{"field":"t","type":"temporal","title":"Date time [UTC]"},"y":{"field":"a","type":"quantitative","title":"Motion [°]"},"color":{"datum":"Arduino (0.5Hz)"}}},
{"data":{"values":[{"z":0}]},"mark":{"type":"rule","color":"black","strokeWidth":1.2},"encoding":{"y":{"field":"z","type":"quantitative","title":"Motion [°]"}}},
{"data":{"name":"phases"},"mark":{"type":"rule","color":"black","strokeWidth":1.6,"strokeDash":[6.1,2.6]},
 "encoding":{"x":{"field":"t","type":"temporal","title":"Date time [UTC]"}}},
{"data":{"name":"labels"},"mark":{"type":"text","font":"Liberation Sans","fontSize":29.5,"align":"left","baseline":"alphabetic","color":"black"},
 "encoding":{"x":{"field":"t","type":"temporal","title":"Date time [UTC]"},"y":{"field":"v","type":"quantitative","title":"Motion [°]"},"text":{"field":"label"}}},
{"data":{"name":"note"},"mark":{"type":"text","font":"DejaVu Sans","fontSize":16.5,"align":"center","baseline":"top","lineBreak":"\n","lineHeight":19.4,"color":"black"},
 "encoding":{"x":{"field":"t","type":"temporal","title":"Date time [UTC]"},"y":{"field":"v","type":"quantitative","title":"Motion [°]"},"text":{"field":"label"}}}
]
}
